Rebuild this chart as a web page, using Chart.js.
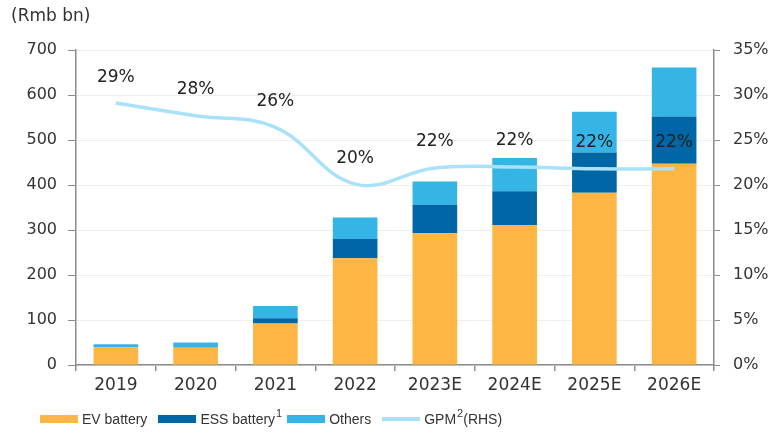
<!DOCTYPE html>
<html>
<head>
<meta charset="utf-8">
<script src="https://cdn.jsdelivr.net/npm/chart.js@4"></script>
<style>
  body { margin: 0; background: #fff; }
  #wrap { position: relative; width: 775px; height: 434px; }
  #legend {
    position: absolute; left: 40px; top: 408px; height: 22px;
    display: flex; align-items: center; white-space: nowrap;
    font-family: "Liberation Sans", Arial, sans-serif; font-size: 14px; color: #333;
  }
  #legend .item { display: flex; align-items: center; margin-right: 11px; }
  #legend .item.tight { margin-right: 5px; }
  #legend .sw { display: inline-block; width: 38px; height: 8px; margin-right: 4px; }
  #legend sup { font-size: 11px; vertical-align: 7px; line-height: 0; margin-left: 1px; }
</style>
</head>
<body>
<div id="wrap">
  <canvas id="chart" width="775" height="434"></canvas>
  <div id="legend">
    <span class="item"><span class="sw" style="background:#FDB643"></span><span>EV battery</span></span>
    <span class="item tight"><span class="sw" style="background:#0066A6"></span><span>ESS battery<sup>1</sup></span></span>
    <span class="item"><span class="sw" style="background:#34B5E6"></span><span>Others</span></span>
    <span class="item"><span class="sw" style="background:#A8E1F8;height:4px"></span><span>GPM<sup>2</sup>(RHS)</span></span>
  </div>
</div>
<script>
// values (Rmb bn, GPM in %)
const years = ['2019', '2020', '2021', '2022', '2023E', '2024E', '2025E', '2026E'];
const evBattery = [39, 39, 92, 237, 293, 311, 383, 447];
const essBattery = [0, 1, 12, 43, 63, 75, 89, 105];
const others = [7, 10, 27, 48, 52, 74, 91, 109];
const gpm = [29.1, 27.7, 26.4, 20.1, 21.9, 22.0, 21.8, 21.8];

const textColor = '#333';
const axisColor = '#8c8c8c';
const tickFont = { family: 'DejaVu Sans', size: 16 };

// percent labels above the GPM line
const gpmLabels = {
  id: 'gpmLabels',
  afterDatasetsDraw(chart) {
    const meta = chart.getDatasetMeta(3);
    const ctx = chart.ctx;
    ctx.save();
    ctx.font = '17px "DejaVu Sans"';
    ctx.fillStyle = '#222';
    ctx.textAlign = 'center';
    ctx.textBaseline = 'middle';
    meta.data.forEach((pt, i) => {
      ctx.fillText(Math.round(gpm[i]) + '%', pt.x, pt.y - 26);
    });
    ctx.restore();
  }
};

// unit title top-left
const unitTitle = {
  id: 'unitTitle',
  afterDraw(chart) {
    const ctx = chart.ctx;
    ctx.save();
    ctx.font = '17px "DejaVu Sans"';
    ctx.fillStyle = textColor;
    ctx.textAlign = 'left';
    ctx.textBaseline = 'middle';
    ctx.fillText('(Rmb bn)', 11, 17);
    ctx.restore();
  }
};

const ctx = document.getElementById('chart').getContext('2d');
new Chart(ctx, {
  type: 'bar',
  data: {
    labels: years,
    datasets: [
      { label: 'EV battery', data: evBattery, backgroundColor: '#FDB643', order: 1 },
      { label: 'ESS battery', data: essBattery, backgroundColor: '#0066A6', order: 1 },
      { label: 'Others', data: others, backgroundColor: '#34B5E6', order: 1 },
      {
        type: 'line', label: 'GPM (RHS)', data: gpm, yAxisID: 'y1',
        borderColor: '#A8E1F8', borderWidth: 3.5, pointRadius: 0,
        tension: 0.4, order: 0
      }
    ]
  },
  options: {
    responsive: false,
    animation: false,
    devicePixelRatio: 1,
    layout: { padding: { top: 50, bottom: 34, left: 0, right: 0 } },
    datasets: { bar: { categoryPercentage: 1, barPercentage: 0.56 } },
    plugins: { legend: { display: false }, tooltip: { enabled: false } },
    scales: {
      x: {
        stacked: true,
        grid: { offset: true, drawOnChartArea: false, tickLength: 6, tickColor: axisColor, lineWidth: 1.5 },
        border: { color: axisColor, width: 1.5 },
        ticks: { color: textColor, font: { family: 'DejaVu Sans', size: 17 }, padding: 4 },
        afterFit(s) { s.height = 35; }
      },
      y: {
        stacked: true,
        min: 0, max: 700,
        grid: { color: '#eeeeee', tickColor: axisColor, tickLength: 8 },
        border: { color: axisColor, width: 1.5 },
        ticks: { stepSize: 100, color: textColor, font: tickFont, padding: 11 },
        afterFit(s) { s.width = 76; }
      },
      y1: {
        position: 'right',
        min: 0, max: 35,
        grid: { drawOnChartArea: false, tickColor: axisColor, tickLength: 6 },
        border: { color: axisColor, width: 1.5 },
        ticks: { stepSize: 5, color: textColor, font: tickFont, padding: 13, callback: v => v + '%' },
        afterFit(s) { s.width = 61; }
      }
    }
  },
  plugins: [gpmLabels, unitTitle]
});
</script>
</body>
</html>
